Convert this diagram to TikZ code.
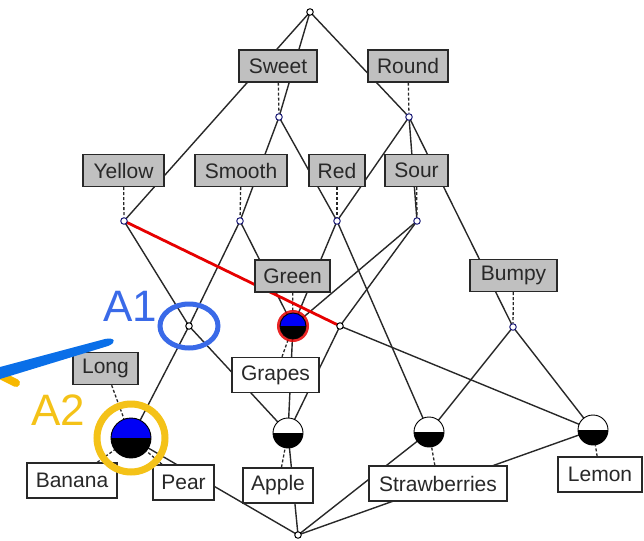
\documentclass[tikz,border=0pt]{standalone}
\usepackage{fontspec}
\setmainfont{Liberation Sans}
\pgfdeclarelayer{bg}
\pgfsetlayers{bg,main}
\definecolor{boxgray}{RGB}{192,192,192}
\definecolor{txt}{RGB}{40,40,40}
\definecolor{navy}{RGB}{30,30,120}
\definecolor{nodeblue}{RGB}{0,0,245}
\definecolor{glowred}{RGB}{230,0,0}
\definecolor{annblue}{RGB}{58,106,232}
\definecolor{strokeblue}{RGB}{10,111,232}
\definecolor{annyellow}{RGB}{244,194,24}
\definecolor{strokeyellow}{RGB}{247,184,0}
\definecolor{linegray}{RGB}{40,40,40}
\begin{document}
\begin{tikzpicture}[x=1pt,y=-1pt,
  attr/.style={draw=linegray, fill=boxgray, line width=1.4pt, inner xsep=4pt, inner ysep=0pt,
    minimum height=32pt, text=txt, font=\fontsize{21}{21}\selectfont},
  obj/.style={attr, fill=white, minimum height=35pt},
  dot/.style={circle, draw=black, fill=white, line width=1pt, inner sep=0pt, minimum size=6.5pt},
  adot/.style={dot, draw=navy},
  halfw/.style={circle, draw=black, fill=black, line width=0.9pt, inner sep=0pt, minimum size=#1,
    path picture={\fill[white] (path picture bounding box.north west) rectangle (path picture bounding box.east);}},
  halfb/.style={circle, draw=black, fill=black, line width=0.9pt, inner sep=0pt, minimum size=#1,
    path picture={\fill[nodeblue] (path picture bounding box.north west) rectangle (path picture bounding box.east);}},
  edge/.style={draw=linegray, line width=1.4pt},
  lab/.style={draw=linegray, line width=1.3pt, densely dashed},
  ann/.style={font=\fontsize{44}{44}\selectfont, inner sep=0pt}
]
\useasboundingbox (0,0) rectangle (644,540);

% concept nodes
\node[dot] (T) at (310,12) {};
\node[adot] (S) at (279,117) {};
\node[adot] (R) at (409,117) {};
\node[adot] (Y) at (124,221) {};
\node[adot] (Sm) at (240,221) {};
\node[adot] (Rd) at (337,221) {};
\node[adot] (So) at (417,221) {};
\node[dot] (A1) at (189,326) {};
\node[halfb=26pt] (G) at (293,326) {};
\node[dot] (D) at (340,326) {};
\node[adot] (B) at (513,327) {};
\node[halfb=40pt] (Ba) at (131,438) {};
\node[halfw=30pt] (Ap) at (288,433) {};
\node[halfw=30pt] (St) at (429,432) {};
\node[halfw=30pt] (Le) at (593,430) {};
\node[dot] (Bt) at (298,535) {};

% labels
\node[attr, minimum width=78pt] (lSweet) at (278,66) {Sweet};
\node[attr, minimum width=80pt] (lRound) at (408,66) {Round};
\node[attr, minimum width=81pt] (lYellow) at (123.5,170.5) {Yellow};
\node[attr, minimum width=92pt] (lSmooth) at (241,170.5) {Smooth};
\node[attr, minimum width=56pt] (lRed) at (337,170.5) {Red};
\node[attr, minimum width=63pt] (lSour) at (416.5,170.5) {Sour};
\node[attr, minimum width=75pt] (lGreen) at (292.5,276) {Green};
\node[attr, minimum width=87pt] (lBumpy) at (513.5,275.5) {Bumpy};
\node[attr, minimum width=65pt] (lLong) at (105.5,368.5) {Long};
\node[obj, minimum width=87pt] (lGrapes) at (275.5,375) {Grapes};
\node[obj, minimum width=90pt] (lBanana) at (72,480.5) {Banana};
\node[obj, minimum width=61pt] (lPear) at (183.5,482.5) {Pear};
\node[obj, minimum width=70pt] (lApple) at (278,485.5) {Apple};
\node[obj, minimum width=138pt] (lStraw) at (438,483.5) {Strawberries};
\node[obj, minimum width=84pt] (lLemon) at (600,474.5) {Lemon};

\begin{pgfonlayer}{bg}
  % lattice edges
  \draw[edge] (T.center) -- (S.center);
  \draw[edge] (T.center) -- (Y.center);
  \draw[edge] (T.center) -- (R.center);
  \draw[edge] (S.center) -- (Sm.center);
  \draw[edge] (S.center) -- (Rd.center);
  \draw[edge] (R.center) -- (Rd.center);
  \draw[edge] (R.center) -- (So.center);
  \draw[edge] (R.center) -- (B.center);
  \draw[edge] (Y.center) -- (A1.center);
  \draw[edge] (Sm.center) -- (A1.center);
  \draw[edge] (Sm.center) -- (G.center);
  \draw[edge] (Rd.center) -- (G.center);
  \draw[edge] (Rd.center) -- (St.center);
  \draw[edge] (So.center) -- (G.center);
  \draw[edge] (So.center) -- (D.center);
  \draw[edge] (A1.center) -- (Ba.center);
  \draw[edge] (A1.center) -- (Ap.center);
  \draw[edge] (G.center) -- (Ap.center);
  \draw[edge] (D.center) -- (Ap.center);
  \draw[edge] (D.center) -- (Le.center);
  \draw[edge] (B.center) -- (St.center);
  \draw[edge] (B.center) -- (Le.center);
  \draw[edge] (Ba.center) -- (Bt.center);
  \draw[edge] (Ap.center) -- (Bt.center);
  \draw[edge] (St.center) -- (Bt.center);
  \draw[edge] (Le.center) -- (Bt.center);
  % label connectors
  \draw[lab] (lSweet) -- (S);
  \draw[lab] (lRound) -- (R);
  \draw[lab] (lYellow) -- (Y);
  \draw[lab] (lSmooth) -- (Sm);
  \draw[lab] (lRed) -- (Rd);
  \draw[lab] (lSour) -- (So);
  \draw[lab] (lGreen) -- (G);
  \draw[lab] (lBumpy) -- (B);
  \draw[lab] (lLong) -- (Ba);
  \draw[lab] (lGrapes) -- (G);
  \draw[lab] (lBanana) -- (Ba);
  \draw[lab] (lPear) -- (Ba);
  \draw[lab] (lApple) -- (Ap);
  \draw[lab] (lStraw) -- (St);
  \draw[lab] (lLemon) -- (Le);
  % highlighted edge
  \draw[glowred, line width=2.8pt] (Y.center) -- (D.center);
  % red glow round Green concept
  \draw[glowred, line width=3pt, opacity=0.85] (G.center) circle[radius=14.5pt];
\end{pgfonlayer}

% annotations
\draw[annblue, line width=5pt] (A1.center) ellipse[x radius=29pt, y radius=22pt];
\draw[annyellow, line width=7pt] (Ba.center) circle[radius=34pt];
\node[ann, text=annblue] (tA1) at (130,306) {A1};
\node[ann, text=annyellow] (tA2) at (58,410) {A2};
\draw[strokeyellow, line width=8pt, line cap=round] (-6,372) -- (16,383);
\fill[strokeblue] (0,367) -- (105,339) .. controls (114,337) and (118,342) .. (108,346) -- (0,379) -- cycle;
\end{tikzpicture}
\end{document}
